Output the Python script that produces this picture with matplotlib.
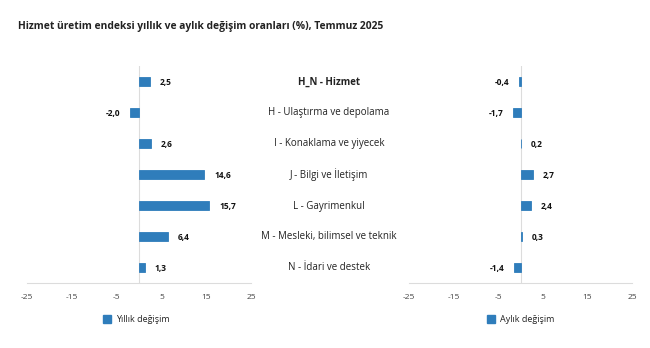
import matplotlib.pyplot as plt

plt.rcParams['font.family'] = ['Open Sans', 'DejaVu Sans']

categories = [
    "H_N - Hizmet",
    "H - Ulaştırma ve depolama",
    "I - Konaklama ve yiyecek",
    "J - Bilgi ve İletişim",
    "L - Gayrimenkul",
    "M - Mesleki, bilimsel ve teknik",
    "N - İdari ve destek",
]
yillik = [2.5, -2.0, 2.6, 14.6, 15.7, 6.4, 1.3]
aylik = [-0.4, -1.7, 0.2, 2.7, 2.4, 0.3, -1.4]
ticks = [-25, -15, -5, 5, 15, 25]
legend_labels = ["Yıllık değişim", "Aylık değişim"]

bar_color = '#2f7dbb'
grid_color = '#dcdcdc'
W, H = 650, 348

fig = plt.figure(figsize=(6.5, 3.48), dpi=100)
fig.text(18 / W, 1 - 27 / H, "Hizmet üretim endeksi yıllık ve aylık değişim oranları (%), Temmuz 2025",
         fontsize=7.4, fontweight='bold', color='#222222', va='center', ha='left')

bottom = 1 - 283 / H
height = (283 - 66) / H


def draw_panel(left_px, right_px, values):
    ax = fig.add_axes([left_px / W, bottom, (right_px - left_px) / W, height])
    pos = list(range(len(values)))
    ax.barh(pos, values, height=0.26, color=bar_color, edgecolor=bar_color, linewidth=0.6)
    ax.set_xlim(-25, 25)
    ax.set_ylim(len(values) - 0.5, -0.5)
    ax.set_xticks(ticks)
    ax.set_xticklabels([str(t) for t in ticks], fontsize=6, color='#444444')
    ax.tick_params(axis='x', length=0, pad=8)
    ax.set_yticks([])
    for s in ['top', 'right', 'left']:
        ax.spines[s].set_visible(False)
    ax.spines['bottom'].set_color(grid_color)
    ax.axvline(0, color=grid_color, lw=0.8, zorder=0)
    for p, v in zip(pos, values):
        txt = f"{v:.1f}".replace('.', ',')
        if v >= 0:
            ax.annotate(txt, (v, p), xytext=(7, -1), textcoords='offset points',
                        ha='left', va='center', fontsize=6, fontweight='bold', color='#111111')
        else:
            ax.annotate(txt, (v, p), xytext=(-7, -1), textcoords='offset points',
                        ha='right', va='center', fontsize=6, fontweight='bold', color='#111111')
    return ax


ax1 = draw_panel(27, 251, yillik)
ax2 = draw_panel(409, 632, aylik)

# category labels between the panels
for i, c in enumerate(categories):
    y = 1 - (82 + 31 * i) / H
    fig.text(329 / W, y, c, ha='center', va='center', fontsize=7,
             fontweight='bold' if i == 0 else 'normal', color='#222222')

# legends
for x_px, lab in [(103, legend_labels[0]), (487, legend_labels[1])]:
    fig.patches.append(plt.Rectangle((x_px / W, 1 - 323 / H), 8 / W, 8 / H,
                                     transform=fig.transFigure, color=bar_color, figure=fig))
    fig.text((x_px + 13) / W, 1 - 319 / H, lab, fontsize=6.5, va='center', ha='left', color='#222222')

plt.savefig('out.png', dpi=100)
